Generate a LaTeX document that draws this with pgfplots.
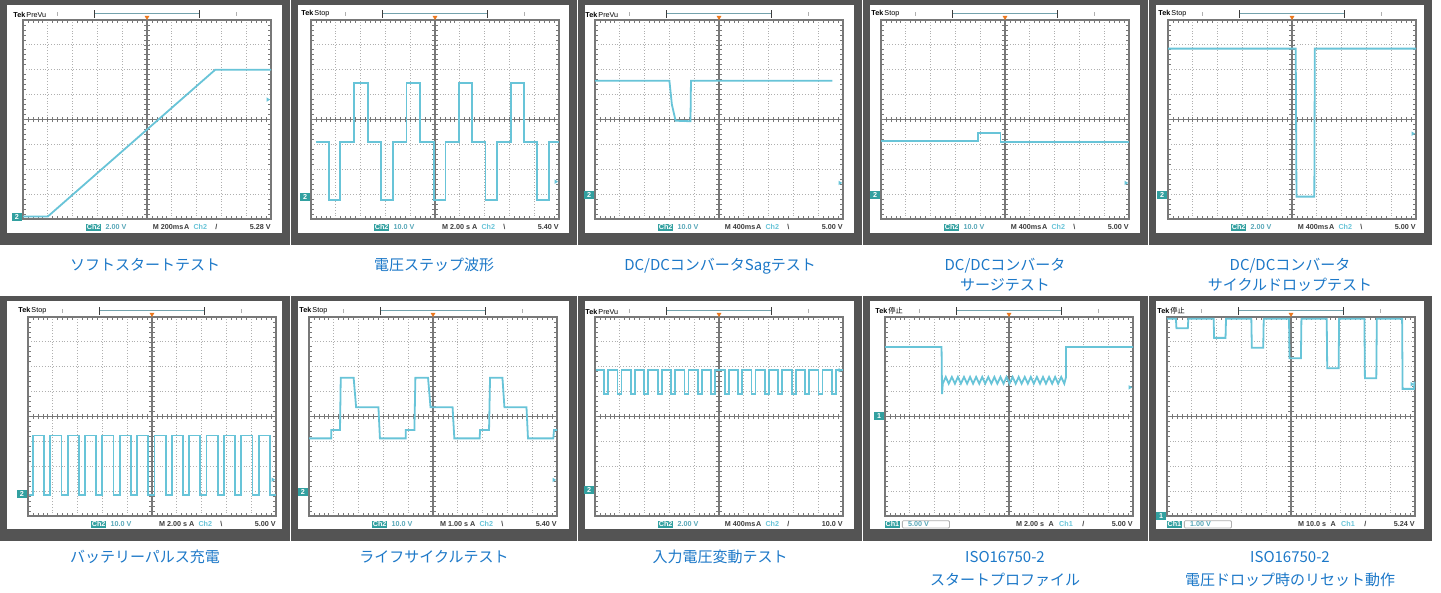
\documentclass[border=0pt]{standalone}
\usepackage{pgfplots}
\pgfplotsset{compat=1.18}
\usepackage{fontspec}
\setmainfont{Liberation Sans}
\newfontfamily\cjk{Noto Sans CJK JP}

\definecolor{framec}{RGB}{84,84,84}
\definecolor{trace}{RGB}{104,196,216}
\definecolor{gridc}{RGB}{175,175,175}
\definecolor{bordc}{RGB}{120,120,120}
\definecolor{teal1}{RGB}{50,160,160}
\definecolor{capblue}{RGB}{28,120,200}
\definecolor{trig}{RGB}{235,120,30}
\definecolor{stat}{RGB}{60,60,60}

\newcommand\tinyf{\fontsize{3.6}{4}\selectfont\bfseries}
\newcommand\capf{\cjk\fontsize{7.5}{9}\selectfont}

\pgfplotsset{
  osc/.style={
    scale only axis, width=124pt, height=99.5pt, anchor=north west,
    xmin=0, xmax=10, ymin=0, ymax=8,
    xtick={0,...,10}, ytick={0,...,8},
    xticklabels={}, yticklabels={},
    major tick length=0pt,
    minor x tick num=4, minor y tick num=4,
    minor tick length=1.6pt, tick align=inside,
    minor tick style={bordc, line width=0.35pt},
    grid=major,
    major grid style={gridc, densely dotted, line width=0.45pt},
    axis line style={bordc, line width=1pt},
    clip=false,
    every axis plot post/.style={trace, line width=0.9pt, mark=none},
  }
}

% frame and screen of one scope picture: x0, x1, y0 in pixels
\newcommand{\frameat}[3]{%
  \fill[framec] ({#1*0.5pt},{-#3*0.5pt}) rectangle ({#2*0.5pt},{-(#3+245)*0.5pt});
  \fill[white] ({(#1+7)*0.5pt},{-(#3+5)*0.5pt}) rectangle ({(#2-8)*0.5pt},{-(#3+233)*0.5pt});
}

% graticule centre lines, markers, header: header, ground level, trigger level, channel
\newcommand{\deco}[4]{%
  \draw[bordc, line width=0.6pt] (axis cs:5,0) -- (axis cs:5,8);
  \draw[bordc, line width=0.6pt] (axis cs:0,4) -- (axis cs:10,4);
  \pgfplotsinvokeforeach{0.2,0.4,...,9.81}{\draw[bordc, line width=0.35pt] ([yshift=-1.3pt]axis cs:##1,4) -- ([yshift=1.3pt]axis cs:##1,4);}
  \pgfplotsinvokeforeach{0.2,0.4,...,7.81}{\draw[bordc, line width=0.35pt] ([xshift=-1.3pt]axis cs:5,##1) -- ([xshift=1.3pt]axis cs:5,##1);}
  \draw[trace!50!gray, line width=0.5pt] ([yshift=3pt]axis cs:2.9,8) -- ([yshift=3pt]axis cs:7.1,8);
  \draw[stat, line width=0.5pt] ([yshift=1pt]axis cs:2.9,8) -- ([yshift=5pt]axis cs:2.9,8);
  \draw[stat, line width=0.5pt] ([yshift=1pt]axis cs:7.1,8) -- ([yshift=5pt]axis cs:7.1,8);
  \draw[gridc, line width=0.4pt] ([yshift=2pt]axis cs:1.4,8) -- ([yshift=4pt]axis cs:1.4,8);
  \draw[gridc, line width=0.4pt] ([yshift=2pt]axis cs:8.6,8) -- ([yshift=4pt]axis cs:8.6,8);
  \fill[trig] (axis cs:5,8) -- ++(-1.2pt,2pt) -- ++(2.4pt,0) -- cycle;
  \node[anchor=south west, inner sep=0pt, font=\tinyf] at ([xshift=-5pt,yshift=1.2pt]axis cs:0,8) {Tek\,\mdseries #1};
  \node[fill=teal1, text=white, font=\tinyf, inner sep=0.4pt, minimum width=5pt, minimum height=4pt, anchor=east] at ([xshift=-0.3pt]axis cs:0,#2) {#4};
  \fill[trace] ([xshift=-0.4pt]axis cs:10,#3) -- ++(-1.8pt,1.1pt) -- ++(0,-2.2pt) -- cycle;
}

% status line, box in the middle: volts, time, slope, level
\newcommand{\statusA}[4]{%
  \node[fill=teal1, text=white, font=\tinyf, inner sep=0.5pt] at ([yshift=-4.2pt]axis cs:2.85,0) {Ch2};
  \node[text=trace!85!black, font=\tinyf, inner sep=0pt] at ([yshift=-4.2pt]axis cs:3.75,0) {#1};
  \node[text=stat, font=\tinyf, inner sep=0pt] at ([yshift=-4.2pt]axis cs:5.85,0) {#2};
  \node[text=stat, font=\tinyf, inner sep=0pt] at ([yshift=-4.2pt]axis cs:6.6,0) {A};
  \node[text=trace, font=\tinyf, inner sep=0pt] at ([yshift=-4.2pt]axis cs:7.15,0) {Ch2};
  \node[text=stat, font=\tinyf, inner sep=0pt] at ([yshift=-4.2pt]axis cs:7.8,0) {#3};
  \node[text=stat, font=\tinyf, inner sep=0pt, anchor=east] at ([yshift=-4.2pt]axis cs:10,0) {#4};
}
% status line, box on the left
\newcommand{\statusB}[4]{%
  \node[fill=teal1, text=white, font=\tinyf, inner sep=0.5pt] at ([yshift=-4.2pt]axis cs:0.3,0) {Ch1};
  \draw[gridc, line width=0.4pt, rounded corners=0.5pt] ([yshift=-2.4pt]axis cs:0.7,0) rectangle ([yshift=-6pt]axis cs:2.6,0);
  \node[text=trace!85!black, font=\tinyf, inner sep=0pt] at ([yshift=-4.2pt]axis cs:1.35,0) {#1};
  \node[text=stat, font=\tinyf, inner sep=0pt] at ([yshift=-4.2pt]axis cs:5.85,0) {#2};
  \node[text=stat, font=\tinyf, inner sep=0pt] at ([yshift=-4.2pt]axis cs:6.7,0) {A};
  \node[text=trace, font=\tinyf, inner sep=0pt] at ([yshift=-4.2pt]axis cs:7.3,0) {Ch1};
  \node[text=stat, font=\tinyf, inner sep=0pt] at ([yshift=-4.2pt]axis cs:8.0,0) {#3};
  \node[text=stat, font=\tinyf, inner sep=0pt, anchor=east] at ([yshift=-4.2pt]axis cs:10,0) {#4};
}

\begin{document}
\begin{tikzpicture}
\useasboundingbox (0,0) rectangle (720.5pt,-296.5pt);
\fill[white] (0,0) rectangle (720.5pt,-296.5pt);

\frameat{0}{290}{0}
\frameat{291}{577}{0}
\frameat{578}{862}{0}
\frameat{863}{1148}{0}
\frameat{1149}{1432}{0}
\frameat{0}{290}{296}
\frameat{291}{577}{296}
\frameat{578}{862}{296}
\frameat{863}{1148}{296}
\frameat{1149}{1432}{296}

% 1 soft start
\begin{axis}[osc, at={(11.5pt,-10pt)}]
\deco{PreVu}{0.1}{4.8}{2}
\statusA{2.00 V}{M 200ms}{/}{5.28 V}
\addplot coordinates {(0,0.1)(1.0,0.1)(7.75,6.0)(10,6.0)};
\end{axis}

% 2 voltage steps
\begin{axis}[osc, at={(155.5pt,-10pt)}]
\deco{Stop}{0.9}{1.5}{2}
\statusA{10.0 V}{M 2.00 s}{\textbackslash}{5.40 V}
\addplot coordinates {(0.2,3.1)(0.72,3.1)(0.72,0.76)(1.18,0.76)(1.18,3.1)(1.72,3.1)(1.72,5.47)(2.3,5.47)(2.3,3.1)(2.82,3.1)(2.82,0.76)(3.3,0.76)(3.3,3.1)(3.85,3.1)(3.85,5.47)(4.4,5.47)(4.4,3.1)(4.97,3.1)(4.97,0.76)(5.42,0.76)(5.42,3.1)(5.96,3.1)(5.96,5.47)(6.5,5.47)(6.5,3.1)(7.04,3.1)(7.04,0.76)(7.5,0.76)(7.5,3.1)(8.05,3.1)(8.05,5.47)(8.6,5.47)(8.6,3.1)(9.1,3.1)(9.1,0.76)(9.6,0.76)(9.6,3.1)(10,3.1)};
\end{axis}

% 3 sag
\begin{axis}[osc, at={(297.5pt,-10pt)}]
\deco{PreVu}{0.95}{1.45}{2}
\statusA{10.0 V}{M 400ms}{\textbackslash}{5.00 V}
\addplot coordinates {(0,5.56)(3.0,5.56)(3.1,4.6)(3.25,3.95)(3.85,3.93)(3.87,5.56)(9.57,5.56)};
\end{axis}

% 4 surge
\begin{axis}[osc, at={(440.5pt,-10pt)}]
\deco{Stop}{0.95}{1.45}{2}
\statusA{10.0 V}{M 400ms}{\textbackslash}{5.00 V}
\addplot coordinates {(0,3.15)(3.92,3.15)(3.92,3.46)(4.82,3.46)(4.82,3.1)(10,3.1)};
\end{axis}

% 5 cycle drop
\begin{axis}[osc, at={(584pt,-10pt)}]
\deco{Stop}{0.95}{3.43}{2}
\statusA{2.00 V}{M 400ms}{\textbackslash}{5.00 V}
\addplot coordinates {(0,6.85)(5.15,6.85)(5.18,0.9)(5.9,0.9)(5.92,6.85)(10,6.85)};
\end{axis}

% 6 battery pulse charge
\begin{axis}[osc, at={(14pt,-158.5pt)}]
\deco{Stop}{0.89}{1.46}{2}
\statusA{10.0 V}{M 2.00 s}{\textbackslash}{5.00 V}
\addplot coordinates {(0.05,0.86)(0.2,0.86)(0.2,3.24)(0.65,3.24)(0.65,0.86)(0.9,0.86)(0.9,3.24)(1.35,3.24)(1.35,0.86)(1.6,0.86)(1.6,3.24)(2.05,3.24)(2.05,0.86)(2.3,0.86)(2.3,3.24)(2.75,3.24)(2.75,0.86)(3.0,0.86)(3.0,3.24)(3.45,3.24)(3.45,0.86)(3.7,0.86)(3.7,3.24)(4.15,3.24)(4.15,0.86)(4.4,0.86)(4.4,3.24)(4.85,3.24)(4.85,0.86)(5.1,0.86)(5.1,3.24)(5.55,3.24)(5.55,0.86)(5.8,0.86)(5.8,3.24)(6.25,3.24)(6.25,0.86)(6.5,0.86)(6.5,3.24)(6.95,3.24)(6.95,0.86)(7.2,0.86)(7.2,3.24)(7.65,3.24)(7.65,0.86)(7.9,0.86)(7.9,3.24)(8.35,3.24)(8.35,0.86)(8.6,0.86)(8.6,3.24)(9.05,3.24)(9.05,0.86)(9.3,0.86)(9.3,3.24)(9.75,3.24)(9.75,0.86)(10,0.86)};
\end{axis}

% 7 life cycle
\begin{axis}[osc, at={(154.5pt,-158.5pt)}]
\deco{Stop}{0.95}{1.45}{2}
\statusA{10.0 V}{M 1.00 s}{\textbackslash}{5.40 V}
\addplot coordinates {(0,3.12)(0.9,3.12)(0.9,3.46)(1.25,3.46)(1.28,5.56)(1.8,5.56)(1.9,4.37)(2.8,4.37)(2.86,3.12)(3.9,3.12)(3.9,3.46)(4.25,3.46)(4.29,5.56)(4.8,5.56)(4.9,4.37)(5.79,4.37)(5.86,3.12)(6.88,3.12)(6.9,3.46)(7.26,3.46)(7.3,5.56)(7.8,5.56)(7.88,4.37)(8.77,4.37)(8.83,3.12)(9.85,3.12)(9.88,3.46)(10,3.46)};
\end{axis}

% 8 input voltage variation
\begin{axis}[osc, at={(297.5pt,-158.5pt)}]
\deco{PreVu}{1.03}{5.86}{2}
\statusA{2.00 V}{M 400ms}{/}{10.0 V}
\addplot coordinates {(0.05,5.86)(0.37,5.86)(0.37,4.89)(0.53,4.89)(0.53,5.86)(0.91,5.86)(0.91,4.89)(1.07,4.89)(1.07,5.86)(1.45,5.86)(1.45,4.89)(1.61,4.89)(1.61,5.86)(1.99,5.86)(1.99,4.89)(2.15,4.89)(2.15,5.86)(2.53,5.86)(2.53,4.89)(2.69,4.89)(2.69,5.86)(3.07,5.86)(3.07,4.89)(3.23,4.89)(3.23,5.86)(3.61,5.86)(3.61,4.89)(3.77,4.89)(3.77,5.86)(4.15,5.86)(4.15,4.89)(4.31,4.89)(4.31,5.86)(4.69,5.86)(4.69,4.89)(4.85,4.89)(4.85,5.86)(5.23,5.86)(5.23,4.89)(5.39,4.89)(5.39,5.86)(5.77,5.86)(5.77,4.89)(5.93,4.89)(5.93,5.86)(6.31,5.86)(6.31,4.89)(6.47,4.89)(6.47,5.86)(6.85,5.86)(6.85,4.89)(7.01,4.89)(7.01,5.86)(7.39,5.86)(7.39,4.89)(7.55,4.89)(7.55,5.86)(7.93,5.86)(7.93,4.89)(8.09,4.89)(8.09,5.86)(8.47,5.86)(8.47,4.89)(8.63,4.89)(8.63,5.86)(9.01,5.86)(9.01,4.89)(9.17,4.89)(9.17,5.86)(9.55,5.86)(9.55,4.89)(9.71,4.89)(9.71,5.86)(10,5.86)};
\end{axis}

% 9 ISO16750-2 start profile
\begin{axis}[osc, at={(442.5pt,-158.5pt)}]
\deco{{\cjk 停止}}{4.0}{5.17}{1}
\statusB{5.00 V}{M 2.00 s}{/}{5.00 V}
\addplot coordinates {(0,6.79)(2.28,6.79)(2.3,4.9)(2.33,5.32)(2.45,5.59)(2.57,5.32)(2.695,5.59)(2.82,5.32)(2.94,5.59)(3.06,5.32)(3.185,5.59)(3.31,5.32)(3.43,5.59)(3.55,5.32)(3.675,5.59)(3.8,5.32)(3.92,5.59)(4.04,5.32)(4.165,5.59)(4.29,5.32)(4.41,5.59)(4.53,5.32)(4.655,5.59)(4.78,5.32)(4.9,5.59)(5.02,5.32)(5.145,5.59)(5.27,5.32)(5.39,5.59)(5.51,5.32)(5.635,5.59)(5.76,5.32)(5.88,5.59)(6.0,5.32)(6.125,5.59)(6.25,5.32)(6.37,5.59)(6.49,5.32)(6.615,5.59)(6.74,5.32)(6.86,5.59)(6.98,5.32)(7.105,5.59)(7.23,5.32)(7.3,5.59)(7.3,6.79)(10,6.79)};
\end{axis}

% 10 ISO16750-2 reset at voltage drop
\begin{axis}[osc, at={(583.5pt,-158.5pt)}]
\deco{{\cjk 停止}}{0.0}{5.3}{1}
\statusB{1.00 V}{M 10.0 s}{/}{5.24 V}
\addplot coordinates {(0,7.93)(0.36,7.93)(0.38,7.55)(0.84,7.55)(0.86,7.93)(1.88,7.93)(1.9,7.16)(2.36,7.16)(2.38,7.93)(3.4,7.93)(3.42,6.76)(3.88,6.76)(3.9,7.93)(4.92,7.93)(4.94,6.34)(5.4,6.34)(5.42,7.93)(6.44,7.93)(6.46,5.94)(6.92,5.94)(6.94,7.93)(7.96,7.93)(7.98,5.54)(8.44,5.54)(8.46,7.93)(9.48,7.93)(9.5,5.11)(9.96,5.11)(9.98,5.4)};
\end{axis}

% captions
\begin{scope}[every node/.style={text=capblue, font=\capf, anchor=base, inner sep=0pt}]
\node at (72.5pt,-135.3pt) {ソフトスタートテスト};
\node at (217pt,-135.3pt) {電圧ステップ波形};
\node at (360pt,-135.3pt) {DC/DCコンバータSagテスト};
\node at (502.5pt,-135.3pt) {DC/DCコンバータ};
\node at (502.5pt,-145.3pt) {サージテスト};
\node at (645pt,-135.3pt) {DC/DCコンバータ};
\node at (645pt,-145.3pt) {サイクルドロップテスト};
\node at (72.5pt,-281.3pt) {バッテリーパルス充電};
\node at (217pt,-281.3pt) {ライフサイクルテスト};
\node at (360pt,-281.3pt) {入力電圧変動テスト};
\node at (502.5pt,-281.3pt) {ISO16750-2};
\node at (502.5pt,-292.8pt) {スタートプロファイル};
\node at (645pt,-281.3pt) {ISO16750-2};
\node at (645pt,-292.8pt) {電圧ドロップ時のリセット動作};
\end{scope}
\end{tikzpicture}
\end{document}
